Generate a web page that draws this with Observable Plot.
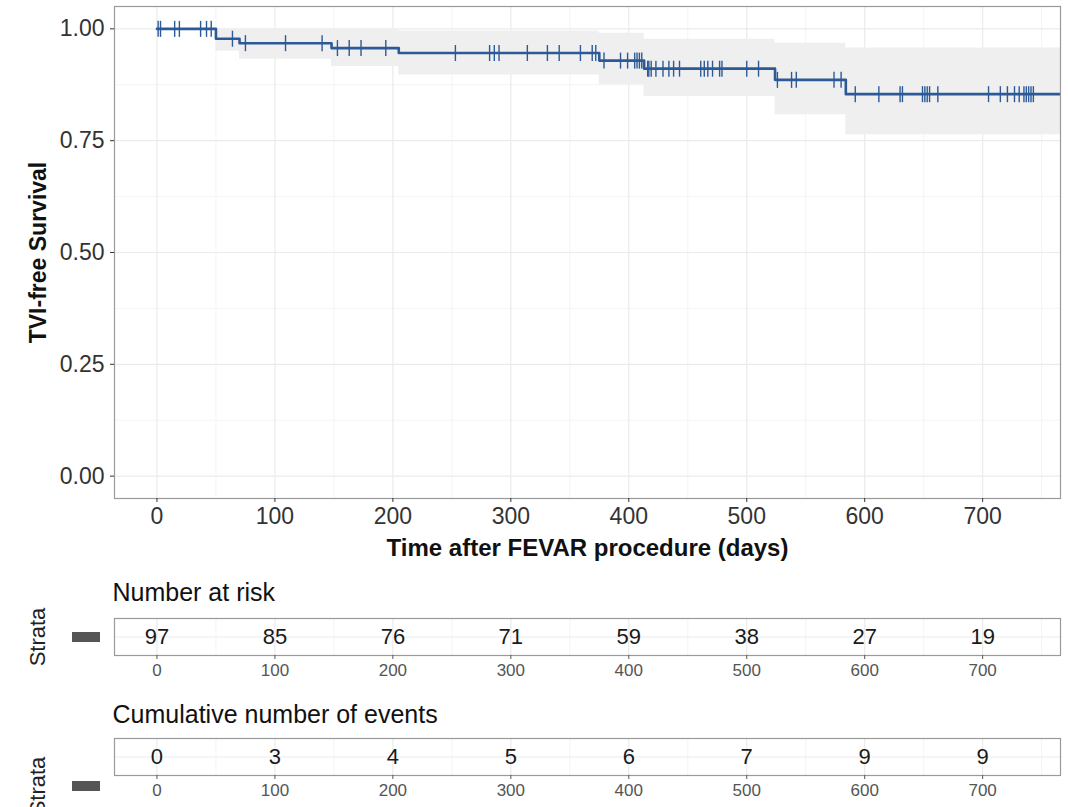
<!DOCTYPE html>
<html><head><meta charset="utf-8">
<script src="https://cdn.jsdelivr.net/npm/d3@7"></script>
<script src="https://cdn.jsdelivr.net/npm/@observablehq/plot@0.6"></script>
<style>
body{margin:0;background:#fff;font-family:"Liberation Sans",Arial,Helvetica,sans-serif}
#wrap{position:relative;width:1068px;height:807px;overflow:hidden;background:#fff}
#wrap svg{position:absolute;left:0;font-family:"Liberation Sans",Arial,Helvetica,sans-serif;background:transparent}
</style></head><body><div id="wrap"></div>
<script>
// ---- data ----
const eventTimes = [50, 70, 148, 205, 375, 413, 524, 584];
const survAfter  = [0.978, 0.968, 0.957, 0.946, 0.929, 0.911, 0.886, 0.854];
const upperCI    = [1.000, 1.000, 1.000, 0.995, 0.990, 0.977, 0.968, 0.957];
const lowerCI    = [0.950, 0.932, 0.916, 0.897, 0.875, 0.849, 0.808, 0.763];
const lastFollowUp = 780;
const censorTimes = [1, 3, 15, 19, 37, 42, 46, 64, 75, 109, 140, 153, 163, 173, 194,
  253, 282, 286, 290, 314, 331, 341, 359, 369, 372, 379, 393, 399, 405, 407, 409, 411,
  416, 417, 419, 423, 429, 434, 438, 443, 461, 464, 467, 471, 477, 479, 500, 510,
  526, 538, 542, 574, 580, 592, 612, 630, 632, 649, 651, 653, 655, 662,
  705, 715, 721, 727, 731, 735, 737, 739, 741, 743];
const tableTimes = [0, 100, 200, 300, 400, 500, 600, 700];
const numberAtRisk = [97, 85, 76, 71, 59, 38, 27, 19];
const cumEvents = [0, 3, 4, 5, 6, 7, 9, 9];
const xMajor = [0, 100, 200, 300, 400, 500, 600, 700];
const xMinor = [50, 150, 250, 350, 450, 550, 650, 750];
const yMajor = [0, 0.25, 0.5, 0.75, 1];
const yMinor = [0.125, 0.375, 0.625, 0.875];
const yTitle = "TVI-free Survival";
const xTitle = "Time after FEVAR procedure (days)";
const riskTitle = "Number at risk";
const eventsTitle = "Cumulative number of events";
const strataTitle = "Strata";

// ---- derived tables ----
const km = [{time: 0, surv: 1, lower: 1, upper: 1}];
eventTimes.forEach((t, i) => km.push({time: t, surv: survAfter[i], lower: lowerCI[i], upper: upperCI[i]}));
km.push({...km[km.length - 1], time: lastFollowUp});
function survAt(t) { let s = 1; eventTimes.forEach((e, i) => { if (e <= t) s = survAfter[i]; }); return s; }
const censor = censorTimes.map(t => ({time: t, surv: survAt(t)}));
const riskRows = tableTimes.map((t, i) => ({time: t, n: numberAtRisk[i]}));
const eventRows = tableTimes.map((t, i) => ({time: t, n: cumEvents[i]}));

const W = 1068, ML = 114, MR = 8;
const xDomain = [-36, 766];
const lineColor = "#2C5A98";
const gridMajor = "#ebebeb", gridMinor = "#f4f4f4";
const vTick = {draw(ctx, size) { const r = Math.sqrt(size / Math.PI); ctx.moveTo(0, -r); ctx.lineTo(0, r); }};
const barSym = {draw(ctx, size) { ctx.rect(-14, -5, 28, 10); }};

const wrap = document.getElementById("wrap");

// ---- main KM plot ----
const main = Plot.plot({
  width: W, height: 565,
  marginLeft: ML, marginRight: MR, marginTop: 6, marginBottom: 67,
  x: {domain: xDomain},
  y: {domain: [-0.05, 1.05]},
  style: {background: "transparent", fontFamily: "Liberation Sans, Arial, sans-serif"},
  marks: [
    Plot.gridX(xMinor, {stroke: gridMinor, strokeOpacity: 1, strokeWidth: 1}),
    Plot.gridY(yMinor, {stroke: gridMinor, strokeOpacity: 1, strokeWidth: 1}),
    Plot.gridX(xMajor, {stroke: gridMajor, strokeOpacity: 1, strokeWidth: 1.2}),
    Plot.gridY(yMajor, {stroke: gridMajor, strokeOpacity: 1, strokeWidth: 1.2}),
    Plot.areaY(km, {x: "time", y1: "lower", y2: "upper", curve: "step-after", fill: "#efefef", fillOpacity: 1, clip: true}),
    Plot.line(km, {x: "time", y: "surv", curve: "step-after", stroke: lineColor, strokeWidth: 2.6, clip: true}),
    Plot.dot(censor, {x: "time", y: "surv", symbol: vTick, r: 8, stroke: lineColor, strokeWidth: 1.4, fill: "none"}),
    Plot.frame({stroke: "#9a9a9a", strokeWidth: 1.2}),
    Plot.axisX({ticks: xMajor, tickSize: 4, tickPadding: 5, fontSize: 23, color: "#333", label: null}),
    Plot.axisY({ticks: yMajor, tickSize: 4, tickPadding: 6, fontSize: 23, color: "#333", tickFormat: d3.format(".2f"), label: null}),
    Plot.text([yTitle], {frameAnchor: "left", dx: -76, rotate: -90, textAnchor: "middle", lineAnchor: "middle", fontSize: 23, fontWeight: "bold", fill: "#111"}),
    Plot.text([xTitle], {frameAnchor: "bottom", dy: 50, textAnchor: "middle", lineAnchor: "middle", fontSize: 24, fontWeight: "bold", fill: "#111"})
  ]
});
main.style.top = "0px";
wrap.appendChild(main);

// ---- risk tables ----
function table(rows, title, top, mTop, mBottom, titleDy, strataDy) {
  const p = Plot.plot({
    width: W, height: 110,
    marginLeft: ML, marginRight: MR, marginTop: mTop, marginBottom: mBottom,
    x: {domain: xDomain},
    y: {domain: [0, 1], axis: null},
    style: {background: "transparent", fontFamily: "Liberation Sans, Arial, sans-serif"},
    marks: [
      Plot.gridX(xMinor, {stroke: gridMinor, strokeOpacity: 1}),
      Plot.gridX(xMajor, {stroke: gridMajor, strokeOpacity: 1, strokeWidth: 1.2}),
      Plot.gridY([0.5], {stroke: gridMajor, strokeOpacity: 1, strokeWidth: 1.2}),
      Plot.text(rows, {x: "time", y: () => 0.5, text: "n", fontSize: 22, fill: "#1a1a1a"}),
      Plot.frame({stroke: "#9a9a9a", strokeWidth: 1.2}),
      Plot.axisX({ticks: xMajor, tickSize: 4, tickPadding: 4, fontSize: 17, color: "#555", label: null}),
      Plot.text([title], {frameAnchor: "top-left", dx: -2, dy: titleDy, textAnchor: "start", lineAnchor: "middle", fontSize: 25, fill: "#111"}),
      Plot.text([strataTitle], {frameAnchor: "left", dx: -77, dy: strataDy, rotate: -90, textAnchor: "middle", lineAnchor: "middle", fontSize: 22, fill: "#222"}),
      Plot.dot([strataTitle], {frameAnchor: "left", dx: -28.5, dy: strataDy, symbol: barSym, r: 5, fill: "#555", stroke: "none"})
    ]
  });
  p.style.top = top + "px";
  wrap.appendChild(p);
}
table(riskRows, riskTitle, 575, 43, 30, -26, 0);
table(eventRows, eventsTitle, 697, 41, 32, -24, 29);
</script></body></html>
